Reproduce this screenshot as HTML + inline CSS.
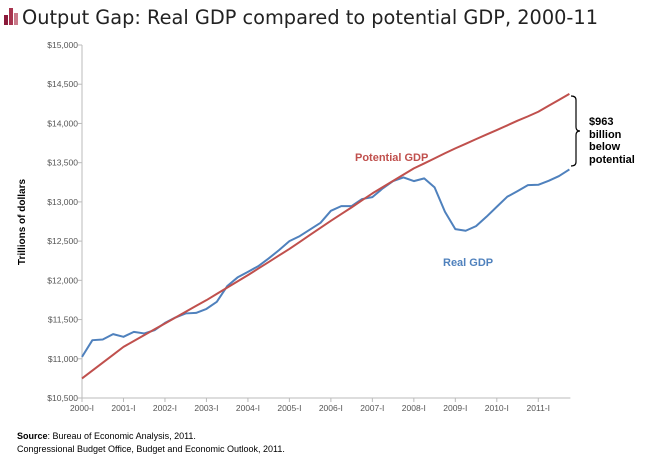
<!DOCTYPE html>
<html><head><meta charset="utf-8"><style>
body{margin:0;background:#fff;width:651px;height:458px;overflow:hidden;font-family:"Liberation Sans",sans-serif}
</style></head><body>
<svg width="651" height="458" xmlns="http://www.w3.org/2000/svg">
<g>
<rect x="4" y="15" width="4" height="10" fill="#8b1a3a"/><rect x="9" y="8" width="4" height="17" fill="#a8344f"/><rect x="14" y="13" width="4" height="12" fill="#c97a8a"/>
</g>
<text x="22" y="24" font-family="DejaVu Sans,sans-serif" font-size="19.5" fill="#222" textLength="576" lengthAdjust="spacingAndGlyphs">Output Gap: Real GDP compared to potential GDP, 2000-11</text>
<g id="axes"></g>
<g id="series"></g>
<text x="355" y="161" font-size="11" font-weight="bold" fill="#c0504d">Potential GDP</text>
<text x="443" y="266" font-size="11" font-weight="bold" fill="#4f81bd">Real GDP</text>
<path d="M571,96 Q576,96 576,100 L576,127 Q576,131 580,131 Q576,131 576,135 L576,162 Q576,166 571,166" fill="none" stroke="#000" stroke-width="1.2"/>
<g font-size="11" font-weight="bold" fill="#000">
<text x="589" y="125">$963</text><text x="589" y="138">billion</text><text x="589" y="150">below</text><text x="589" y="163">potential</text></g>
<text transform="translate(25,222) rotate(-90)" text-anchor="middle" font-size="10" font-weight="bold" fill="#000">Trillions of dollars</text>
<text x="17" y="439" font-size="9" fill="#000"><tspan font-weight="bold">Source</tspan>: Bureau of Economic Analysis, 2011.</text>
<text x="17" y="452" font-size="9" fill="#000">Congressional Budget Office, Budget and Economic Outlook, 2011.</text>
</svg>
<script>
const yTicks=[10500,11000,11500,12000,12500,13000,13500,14000,14500,15000];
const yearLabels=["2000-I","2001-I","2002-I","2003-I","2004-I","2005-I","2006-I","2007-I","2008-I","2009-I","2010-I","2011-I"];
const realGDP=[11024,11237,11246,11314,11280,11343,11323,11365,11457,11526,11578,11585,11636,11726,11926,12037,12108,12181,12279,12385,12500,12564,12649,12733,12886,12946,12946,13036,13061,13172,13265,13312,13265,13300,13185,12874,12653,12632,12691,12810,12938,13065,13138,13214,13218,13269,13329,13414];
const potentialGDP=[10749,10850,10950,11050,11152,11227,11302,11376,11450,11525,11600,11674,11747,11827,11907,11987,12066,12150,12233,12317,12400,12490,12580,12670,12759,12845,12930,13020,13108,13188,13268,13348,13427,13490,13555,13620,13682,13740,13800,13858,13916,13975,14035,14090,14149,14225,14300,14377];
const NS="http://www.w3.org/2000/svg";
const x0=82,qw=10.37,yTop=45,yBot=398,vMin=10500,vMax=15000;
const X=i=>x0+i*qw;
const Y=v=>yBot-(v-vMin)/(vMax-vMin)*(yBot-yTop);
const axes=document.getElementById('axes'),series=document.getElementById('series');
function mk(t,a,p){const e=document.createElementNS(NS,t);for(const k in a)e.setAttribute(k,a[k]);p.appendChild(e);return e;}
const yl=mk('line',{x1:x0,y1:yTop,x2:x0,y2:yBot,stroke:'#bbb'},axes);


const xl=mk('line',{x1:x0,y1:yBot,x2:X(47)+1,y2:yBot,stroke:'#bbb'},axes);


yTicks.forEach(v=>{
 mk('line',{x1:x0-4,y1:Y(v),x2:x0,y2:Y(v),stroke:'#bbb'},axes);
 const t=mk('text',{x:x0-4,y:Y(v)+3,'text-anchor':'end','font-size':'8.5',fill:'#555'},axes);
 t.textContent='$'+v.toLocaleString('en-US');
 
 
});
yearLabels.forEach((l,k)=>{
 const x=X(k*4);
 mk('line',{x1:x,y1:yBot,x2:x,y2:yBot+4,stroke:'#bbb'},axes);
 const t=mk('text',{x:x,y:yBot+13,'text-anchor':'middle','font-size':'8.5',fill:'#555'},axes);
 t.textContent=l;
 
 
});
function line(d,c,n){
 const p=mk('polyline',{points:d.map((v,i)=>X(i)+','+Y(v)).join(' '),fill:'none',stroke:c,'stroke-width':'2','stroke-linejoin':'round'},series);
 
 
}
line(realGDP,'#4f81bd','real-gdp-line');
line(potentialGDP,'#c0504d','potential-gdp-line');
</script>
</body></html>
